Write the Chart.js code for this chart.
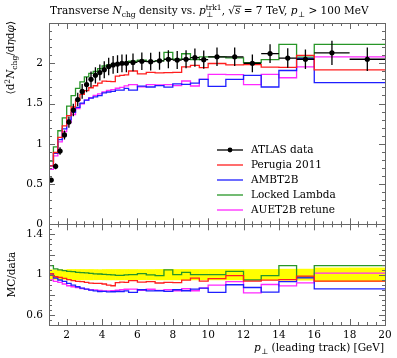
<!DOCTYPE html>
<html><head><meta charset="utf-8">
<script src="https://cdn.jsdelivr.net/npm/chart.js@4.4.0/dist/chart.umd.min.js"></script>
<style>html,body{margin:0;padding:0;background:#fff;}#c{display:block;}</style>
</head><body>
<canvas id="c" width="397" height="358"></canvas>
<script>
// ---- data ----
const binEdges = [1,1.25,1.5,1.75,2,2.25,2.5,2.75,3,3.25,3.5,3.75,4,4.25,4.5,4.75,5,5.25,5.5,6,6.5,7,7.5,8,8.5,9,9.5,10,11,12,13,14,15,16,18,20];
const atlasData = [0.55,0.72,0.91,1.11,1.27,1.42,1.55,1.65,1.735,1.80,1.85,1.885,1.92,1.96,1.98,1.99,2.00,2.00,2.01,2.025,2.02,2.03,2.05,2.04,2.05,2.07,2.045,2.08,2.08,2.00,2.12,2.065,2.05,2.13,2.05];
const atlasErr = [0.028,0.036,0.046,0.056,0.07,0.078,0.085,0.091,0.095,0.099,0.10,0.10,0.105,0.108,0.109,0.11,0.11,0.11,0.11,0.11,0.11,0.112,0.113,0.112,0.113,0.114,0.112,0.115,0.115,0.11,0.117,0.12,0.12,0.15,0.145];
const perugia2011 = [0.572,0.725,0.892,1.080,1.223,1.349,1.457,1.539,1.614,1.661,1.696,1.721,1.753,1.778,1.776,1.771,1.84,1.85,1.855,1.904,1.869,1.888,1.880,1.883,1.886,1.956,1.973,1.945,1.997,1.98,1.982,1.951,1.948,2.098,1.917];
const ambt2b = [0.576,0.725,0.880,1.051,1.185,1.296,1.390,1.452,1.504,1.543,1.567,1.583,1.599,1.633,1.643,1.652,1.666,1.666,1.688,1.667,1.717,1.705,1.722,1.703,1.743,1.739,1.753,1.80,1.714,1.80,1.85,1.705,1.91,2.06,1.76];
const lockedLambda = [0.631,0.785,0.962,1.162,1.321,1.467,1.597,1.688,1.770,1.831,1.874,1.898,1.933,1.966,1.98,1.984,1.986,1.986,2.004,2.025,2.040,2.024,2.030,2.136,2.05,2.118,2.045,2.08,2.08,2.066,2.008,2.044,2.235,2.077,2.235];
const auet2bRetune = [0.563,0.682,0.849,1.025,1.152,1.264,1.364,1.436,1.497,1.543,1.573,1.602,1.619,1.646,1.663,1.672,1.69,1.70,1.719,1.735,1.707,1.736,1.732,1.734,1.722,1.780,1.718,1.80,1.863,1.86,1.735,1.863,1.82,1.955,2.08];
const xTickValues = [2,4,6,8,10,12,14,16,18,20];
const mainYTickValues = [0,0.5,1,1.5,2];
const ratioYTickValues = [0.6,0.8,1,1.2,1.4];
const seriesNames = ['ATLAS data','Perugia 2011','AMBT2B','Locked Lambda','AUET2B retune'];

// ---- styling ----
const FAM = '"DejaVu Serif","Liberation Serif",serif';
const FS = 10.5;
const COL = {data:'#000', red:'rgb(255,30,30)', blue:'rgb(30,30,255)', green:'rgb(40,150,40)', mag:'rgb(255,40,255)'};
const mcSeries = [
  {vals: perugia2011, col: COL.red},
  {vals: ambt2b, col: COL.blue},
  {vals: lockedLambda, col: COL.green},
  {vals: auet2bRetune, col: COL.mag}
];

function stepPts(vals){
  const p = vals.map((v,i)=>({x:binEdges[i], y:v}));
  p.push({x:binEdges[binEdges.length-1], y:vals[vals.length-1]});
  return p;
}
const centers = atlasData.map((v,i)=>(binEdges[i]+binEdges[i+1])/2);

const datasets = [];
datasets.push({label:'data', data: atlasData.map((v,i)=>({x:centers[i], y:v})), yAxisID:'y', showLine:false,
  pointRadius:2.6, pointBackgroundColor:'#000', pointBorderColor:'#000', pointBorderWidth:0});
for(const s of mcSeries){
  datasets.push({data: stepPts(s.vals), yAxisID:'y', stepped:'after', borderColor:s.col, borderWidth:1.3, pointRadius:0, fill:false});
}
for(const s of mcSeries){
  datasets.push({data: stepPts(s.vals.map((v,i)=>v/atlasData[i])), yAxisID:'yr', stepped:'after', borderColor:s.col, borderWidth:1.3, pointRadius:0, fill:false});
}

// ---- rich text helpers ----
function layoutRich(ctx, segs, size){
  let w=0, pend=0; const out=[];
  for(const s of segs){
    const sz=size*(s.s||1);
    const f=(s.i?'italic ':'')+sz+'px '+FAM;
    ctx.font=f;
    const sw=ctx.measureText(s.t).width;
    const x=w+(s.dx||0)*size;
    out.push({s,f,x,sw,sz});
    if(s.hold){pend=Math.max(pend,sw);} else {w=x+Math.max(sw,pend); pend=0;}
  }
  return {w,out};
}
function drawRich(ctx, segs, x, y, size, align){
  const L=layoutRich(ctx,segs,size);
  const x0 = align==='right'? x-L.w : align==='center'? x-L.w/2 : x;
  ctx.textBaseline='alphabetic'; ctx.textAlign='left'; ctx.fillStyle='#000';
  for(const o of L.out){
    ctx.font=o.f;
    const yy=y+(o.s.dy||0)*size;
    ctx.fillText(o.s.t, x0+o.x, yy);
    if(o.s.ol){ ctx.fillRect(x0+o.x-0.5, yy-o.sz*0.78, o.sw+1.5, 0.8); }
  }
}

const titleSegs = [{t:'Transverse '},{t:'N',i:1},{t:'chg',s:0.72,dy:0.25},{t:' density vs. '},{t:'p',i:1},
  {t:'⊥',s:0.72,dy:0.3,hold:1,dx:0.05},{t:'trk1',s:0.72,dy:-0.42},{t:', '},{t:'√'},{t:'s',i:1,ol:1},
  {t:' = 7 TeV, '},{t:'p',i:1},{t:'⊥',s:0.72,dy:0.3,dx:0.05},{t:' > 100 MeV'}];
const yMainSegs = [{t:'⟨d'},{t:'2',s:0.72,dy:-0.4},{t:'N',i:1},{t:'chg',s:0.72,dy:0.25},{t:'/d'},{t:'η',i:1},{t:'d'},{t:'φ',i:1},{t:'⟩'}];
const yRatioSegs = [{t:'MC/data'}];
const xTitleSegs = [{t:'p',i:1},{t:'⊥',s:0.72,dy:0.3,dx:0.05},{t:' (leading track) [GeV]'}];

// ---- plugins ----
const bandPlugin = {id:'band', beforeDatasetsDraw(chart){
  const ctx=chart.ctx, xs=chart.scales.x, yr=chart.scales.yr;
  ctx.save(); ctx.fillStyle='rgb(255,255,0)';
  for(let i=0;i<atlasData.length;i++){
    const x0=xs.getPixelForValue(binEdges[i]), x1=xs.getPixelForValue(binEdges[i+1]);
    const r=atlasErr[i]/atlasData[i];
    const y0=yr.getPixelForValue(1+r), y1=yr.getPixelForValue(1-r);
    ctx.fillRect(x0,y0,x1-x0+0.5,y1-y0);
  }
  ctx.restore();
}};
const errPlugin = {id:'err', beforeDatasetDraw(chart,args){
  if(args.index!==0) return;
  const ctx=chart.ctx, xs=chart.scales.x, ys=chart.scales.y;
  ctx.save(); ctx.strokeStyle='#000'; ctx.lineWidth=1.3;
  for(let i=0;i<atlasData.length;i++){
    const x0=xs.getPixelForValue(binEdges[i]), x1=xs.getPixelForValue(binEdges[i+1]), xc=xs.getPixelForValue(centers[i]);
    const y=ys.getPixelForValue(atlasData[i]);
    ctx.beginPath(); ctx.moveTo(x0,y); ctx.lineTo(x1,y);
    ctx.moveTo(xc, ys.getPixelForValue(atlasData[i]+atlasErr[i])); ctx.lineTo(xc, ys.getPixelForValue(atlasData[i]-atlasErr[i]));
    ctx.stroke();
  }
  ctx.restore();
}};
function frameTicks(ctx, xs, ys, yMin, yMax, majY, minStepY){
  const L=xs.left, R=xs.right, T=ys.top, B=ys.bottom;
  ctx.strokeStyle='#666'; ctx.lineWidth=1;
  ctx.strokeRect(Math.round(L)+0.5, Math.round(T)+0.5, Math.round(R-L), Math.round(B-T));
  ctx.beginPath();
  for(let v=1; v<=20.001; v+=0.5){
    const isMaj = xTickValues.some(m=>Math.abs(m-v)<1e-6);
    const len = isMaj?6:3;
    const px=Math.round(xs.getPixelForValue(v))+0.5;
    ctx.moveTo(px,B); ctx.lineTo(px,B-len);
    ctx.moveTo(px,T); ctx.lineTo(px,T+len);
  }
  const n=Math.round((yMax-yMin)/minStepY);
  for(let k=0;k<=n;k++){
    const v=yMin+k*minStepY;
    const isMaj = majY.some(m=>Math.abs(m-v)<1e-6);
    const len=isMaj?6:3;
    const py=Math.round(ys.getPixelForValue(v))+0.5;
    ctx.moveTo(L,py); ctx.lineTo(L+len,py);
    ctx.moveTo(R,py); ctx.lineTo(R-len,py);
  }
  ctx.stroke();
}
const decoPlugin = {id:'deco', afterDraw(chart){
  const ctx=chart.ctx, xs=chart.scales.x, ys=chart.scales.y, yr=chart.scales.yr;
  ctx.save();
  frameTicks(ctx, xs, ys, 0, 2.5, mainYTickValues, 0.1);
  frameTicks(ctx, xs, yr, 0.5, 1.5, ratioYTickValues, 0.05);
  drawRich(ctx, titleSegs, 50, 14, FS, 'left');
  drawRich(ctx, xTitleSegs, xs.right-1, 351, FS, 'right');
  ctx.save(); ctx.translate(14, ys.top-2); ctx.rotate(-Math.PI/2);
  drawRich(ctx, yMainSegs, 0, 0, FS, 'right'); ctx.restore();
  ctx.save(); ctx.translate(14.5, (yr.top+yr.bottom)/2); ctx.rotate(-Math.PI/2);
  drawRich(ctx, yRatioSegs, 0, 0, FS, 'center'); ctx.restore();
  const cols=[COL.data, COL.red, COL.blue, COL.green, COL.mag];
  for(let i=0;i<seriesNames.length;i++){
    const y=150+15*i;
    ctx.strokeStyle=cols[i]; ctx.lineWidth=1.3;
    ctx.beginPath(); ctx.moveTo(217,y); ctx.lineTo(243,y); ctx.stroke();
    if(i===0){ ctx.fillStyle='#000'; ctx.beginPath(); ctx.arc(230,y,2.4,0,Math.PI*2); ctx.fill(); }
    ctx.fillStyle='#000'; ctx.font=FS+'px '+FAM; ctx.textAlign='left'; ctx.textBaseline='middle';
    ctx.fillText(seriesNames[i], 251, y+0.5);
  }
  ctx.restore();
}};

const tickFont = {family: FAM, size: FS};
new Chart(document.getElementById('c'), {
  type:'line',
  data:{datasets},
  options:{
    responsive:false, animation:false, devicePixelRatio:1,
    layout:{padding:{top:23, right:12, left:0, bottom:0}},
    plugins:{legend:{display:false}, tooltip:{enabled:false}},
    scales:{
      x:{type:'linear', min:1, max:20, position:'bottom', grid:{display:false, drawTicks:false}, border:{display:false},
        afterBuildTicks:s=>{s.ticks=xTickValues.map(v=>({value:v}));},
        afterFit:s=>{s.height=33;},
        ticks:{font:tickFont, color:'#000', padding:4, maxRotation:0, autoSkip:false, callback:v=>String(v)}},
      yr:{type:'linear', min:0.5, max:1.5, position:'left', stack:'p', stackWeight:1, grid:{display:false, drawTicks:false}, border:{display:false},
        afterBuildTicks:s=>{s.ticks=ratioYTickValues.map(v=>({value:v}));},
        afterFit:s=>{s.width=49;},
        ticks:{font:tickFont, color:'#000', padding:6, callback:v=>String(v)}},
      y:{type:'linear', min:0, max:2.5, position:'left', stack:'p', stackWeight:2, grid:{display:false, drawTicks:false}, border:{display:false},
        afterBuildTicks:s=>{s.ticks=mainYTickValues.map(v=>({value:v}));},
        afterFit:s=>{s.width=49;},
        ticks:{font:tickFont, color:'#000', padding:6, callback:v=>String(v)}}
    }
  },
  plugins:[bandPlugin, errPlugin, decoPlugin]
});
</script>
</body></html>
